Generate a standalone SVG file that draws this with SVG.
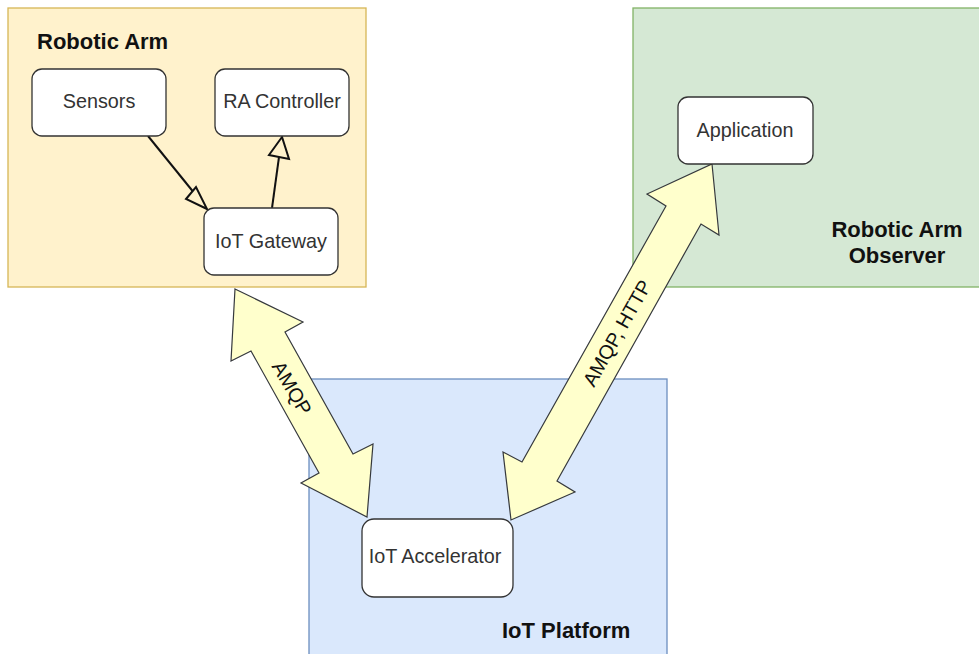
<svg xmlns="http://www.w3.org/2000/svg" width="979" height="654" viewBox="0 0 979 654">
<style>
.node rect{fill:#ffffff;stroke:#333333;stroke-width:1.3}
.lbl{font-family:"Liberation Sans",Arial,sans-serif;font-size:19.8px;fill:#333333;text-anchor:middle}
.title{font-family:"Liberation Sans",Arial,sans-serif;font-size:22px;font-weight:bold;fill:#111111}
.flex{fill:#ffffcc;stroke:#36393d;stroke-width:1.2;stroke-linejoin:miter}
.flow{fill:none;stroke:#111111;stroke-width:2}
.head{fill:#fff2cc;stroke:#111111;stroke-width:2;stroke-linejoin:miter}
</style>
<rect width="979" height="654" fill="#ffffff"/>
<g id="robotic-arm">
<rect x="8" y="8" width="358" height="279" fill="#fff2cc" stroke="#d6b656" stroke-width="1.3"/>
<text class="title" x="37" y="49">Robotic Arm</text>
</g>
<g id="observer">
<rect x="633" y="8" width="350" height="279" fill="#d5e8d4" stroke="#82b366" stroke-width="1.3"/>
<text class="title" x="897" y="237" text-anchor="middle">Robotic Arm</text>
<text class="title" x="897" y="263" text-anchor="middle">Observer</text>
</g>
<g id="iot-platform">
<rect x="309" y="379" width="358" height="280" fill="#dae8fc" stroke="#6c8ebf" stroke-width="1.3"/>
<text class="title" x="502" y="638">IoT Platform</text>
</g>
<g id="connectors">
<path class="flow" d="M148,136 L195,194"/>
<path class="head" d="M207,209 L186,199 L196,187 Z"/>
<path class="flow" d="M272,208 L279,157"/>
<path class="head" d="M282,137 L269,155 L289,159 Z"/>
<path class="flex" d="M235,289 L303,322 L285,332 L353,454 L373,444 L367,517 L301,483 L319,473 L251,351 L231,361 Z"/>
<text class="lbl" transform="translate(292,388) rotate(59.9)" y="7" style="fill:#111111">AMQP</text>
<path class="flex" d="M712,164 L719,235 L701,224 L557,481 L575,492 L511,520 L503,452 L522,462 L666,206 L647,194 Z"/>
<text class="lbl" transform="translate(617,333) rotate(-60.5)" y="7" style="fill:#111111">AMQP, HTTP</text>
</g>
<g id="sensors" class="node">
<rect x="32" y="69" width="134" height="67" rx="10"/>
<text class="lbl" x="99" y="108">Sensors</text>
</g>
<g id="ra-controller" class="node">
<rect x="215" y="69" width="134" height="67" rx="10"/>
<text class="lbl" x="282" y="108">RA Controller</text>
</g>
<g id="iot-gateway" class="node">
<rect x="204" y="208" width="134" height="67" rx="10"/>
<text class="lbl" x="271" y="248">IoT Gateway</text>
</g>
<g id="application" class="node">
<rect x="678" y="97" width="135" height="67" rx="10"/>
<text class="lbl" x="745" y="137">Application</text>
</g>
<g id="iot-accelerator" class="node">
<rect x="362" y="519" width="151" height="78" rx="12"/>
<text class="lbl" x="435" y="563">IoT Accelerator</text>
</g>
</svg>
